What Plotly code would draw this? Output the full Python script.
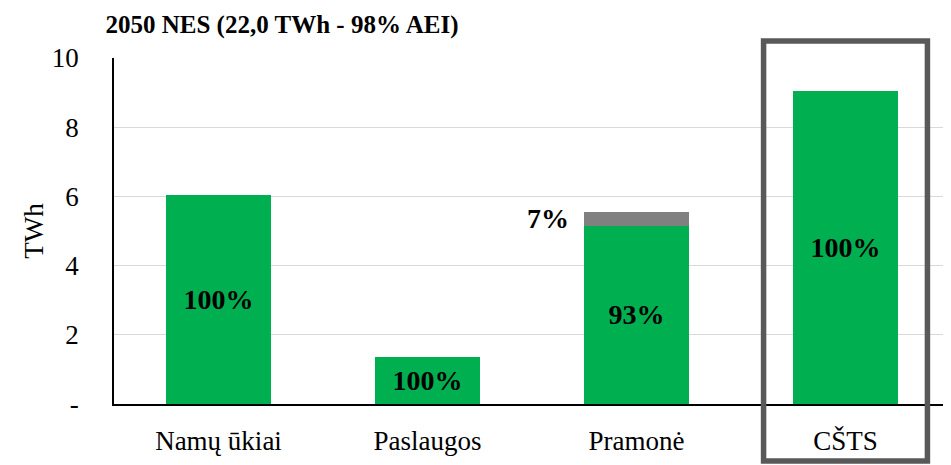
import plotly.graph_objects as go

categories = ["Namų ūkiai", "Paslaugos", "Pramonė", "CŠTS"]
green_values = [6.03, 1.36, 5.15, 9.04]
gray_values = [0.0, 0.0, 0.41, 0.0]
green_labels = ["100%", "100%", "93%", "100%"]
gray_labels = ["", "", "7%", ""]
y_tickvals = [0, 2, 4, 6, 8, 10]
y_ticktext = ["-", "2", "4", "6", "8", "10"]
title_text = "2050 NES (22,0 TWh - 98% AEI)"
highlight = "CŠTS"

FONT = "Liberation Serif"
GREEN = "#00B050"
GRAY = "#808080"

fig = go.Figure()
fig.add_trace(go.Bar(
    x=categories, y=green_values, marker=dict(color=GREEN, line=dict(width=0)),
    text=green_labels, textposition="inside", insidetextanchor="middle",
    textfont=dict(family=FONT, size=28, color="black", weight="bold"),
    hoverinfo="skip", showlegend=False,
))
fig.add_trace(go.Bar(
    x=categories, y=gray_values, marker=dict(color=GRAY, line=dict(width=0)),
    hoverinfo="skip", showlegend=False,
))

for i, lab in enumerate(gray_labels):
    if lab:
        fig.add_annotation(
            x=categories[i], y=green_values[i] + gray_values[i] / 2,
            xref="x", yref="y", text=lab, showarrow=False,
            xanchor="right", yanchor="middle", xshift=-66,
            font=dict(family=FONT, size=28, color="black", weight="bold"),
        )

hi = categories.index(highlight)
fig.add_shape(
    type="rect", xref="x", yref="paper",
    x0=hi - 0.392, x1=hi + 0.392, y0=-0.165, y1=1.049,
    line=dict(color="#595959", width=5.5), fillcolor="rgba(0,0,0,0)",
    layer="above",
)

fig.update_layout(
    width=943, height=457,
    margin=dict(l=106, r=1, t=50, b=61),
    paper_bgcolor="white", plot_bgcolor="white",
    barmode="stack", bargap=0.5,
    font=dict(family=FONT, size=27, color="black"),
    title=dict(
        text=title_text, xref="paper", x=0.201, xanchor="center",
        yref="container", y=0.965, yanchor="middle",
        font=dict(family=FONT, size=25, color="black", weight="bold"),
    ),
    xaxis=dict(
        showline=True, linecolor="black", linewidth=1.5,
        showgrid=False, ticks="", ticklabelstandoff=12,
        tickfont=dict(family=FONT, size=27, color="black"),
    ),
    yaxis=dict(
        range=[0, 10], tickvals=y_tickvals, ticktext=y_ticktext,
        showline=True, linecolor="black", linewidth=1.5,
        showgrid=True, gridcolor="#D9D9D9", gridwidth=1.2,
        zeroline=False, ticks="", ticklabelstandoff=28,
        tickfont=dict(family=FONT, size=27, color="black"),
        title=dict(text="TWh", standoff=0, font=dict(family=FONT, size=27, color="black")),
    ),
)

fig.write_html("out.html")
